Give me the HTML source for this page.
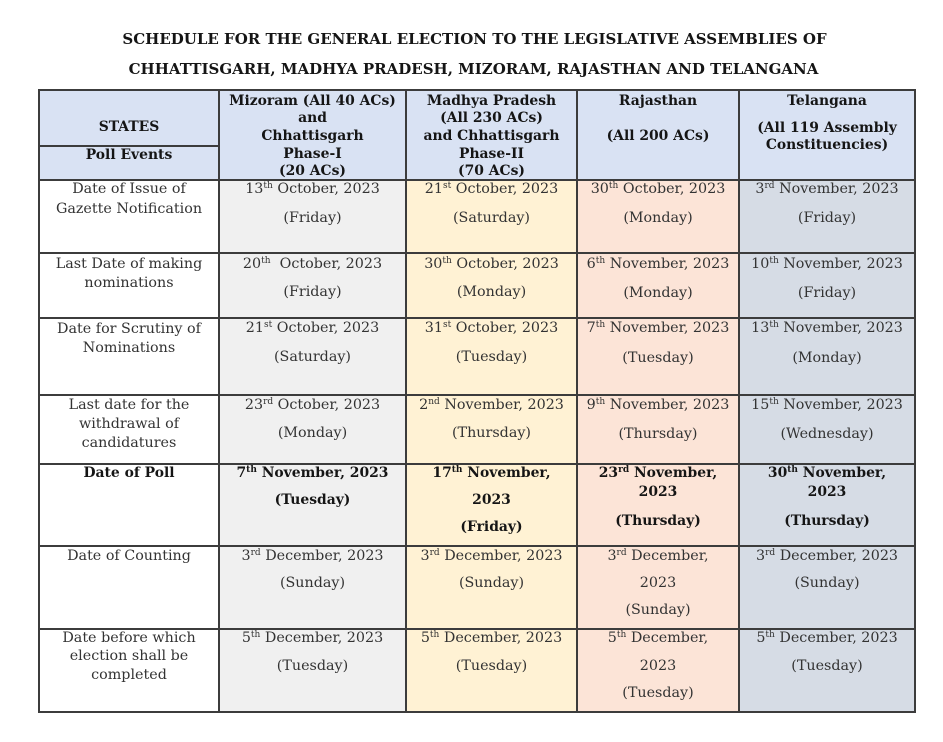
<!DOCTYPE html>
<html><head><meta charset="utf-8">
<style>
html,body{margin:0;padding:0;background:#fff;}
body{width:943px;height:742px;position:relative;overflow:hidden;font-family:"DejaVu Serif","Liberation Serif",serif;}
.bg{position:absolute;}
.h{position:absolute;background:#3c3c3c;height:2px;}
.v{position:absolute;background:#3c3c3c;width:2px;}
.t{position:absolute;text-align:center;line-height:18px;white-space:nowrap;font-size:14.3px;color:#333;}
.b{font-weight:bold;color:#151515;font-size:13.9px;}
.s{font-size:9px;vertical-align:5px;line-height:0;}
.ti{position:absolute;left:0;width:943px;text-align:center;font-weight:bold;font-size:15px;color:#151515;white-space:nowrap;line-height:20px;}
</style></head><body>
<div class="ti" style="top:29px;left:3px">SCHEDULE FOR THE GENERAL ELECTION TO THE LEGISLATIVE ASSEMBLIES OF</div>
<div class="ti" style="top:59px;left:2px">CHHATTISGARH, MADHYA PRADESH, MIZORAM, RAJASTHAN AND TELANGANA</div>

<!-- backgrounds -->
<div class="bg" style="left:39px;top:90px;width:876px;height:90px;background:#d9e2f3"></div>
<div class="bg" style="left:219px;top:180px;width:187px;height:532px;background:#f0f0f0"></div>
<div class="bg" style="left:406px;top:180px;width:171px;height:532px;background:#fff2d4"></div>
<div class="bg" style="left:577px;top:180px;width:162px;height:532px;background:#fce4d7"></div>
<div class="bg" style="left:739px;top:180px;width:176px;height:532px;background:#d6dce5"></div>

<!-- horizontal lines -->
<div class="h" style="left:39px;top:89px;width:877px"></div>
<div class="h" style="left:39px;top:145px;width:181px"></div>
<div class="h" style="left:39px;top:179px;width:877px"></div>
<div class="h" style="left:39px;top:252px;width:877px"></div>
<div class="h" style="left:39px;top:317px;width:877px"></div>
<div class="h" style="left:39px;top:394px;width:877px"></div>
<div class="h" style="left:39px;top:463px;width:877px"></div>
<div class="h" style="left:39px;top:545px;width:877px"></div>
<div class="h" style="left:39px;top:628px;width:877px"></div>
<div class="h" style="left:39px;top:711px;width:877px"></div>
<!-- vertical lines -->
<div class="v" style="left:38px;top:89px;height:624px"></div>
<div class="v" style="left:218px;top:89px;height:624px"></div>
<div class="v" style="left:405px;top:89px;height:624px"></div>
<div class="v" style="left:576px;top:89px;height:624px"></div>
<div class="v" style="left:738px;top:89px;height:624px"></div>
<div class="v" style="left:914px;top:89px;height:624px"></div>

<!-- header -->
<div class="t b" style="left:39px;width:180px;top:118px">STATES</div>
<div class="t b" style="left:39px;width:180px;top:146px">Poll Events</div>

<div class="t b" style="left:219px;width:187px;top:92px">Mizoram (All 40 ACs)</div>
<div class="t b" style="left:219px;width:187px;top:109px">and</div>
<div class="t b" style="left:219px;width:187px;top:127px">Chhattisgarh</div>
<div class="t b" style="left:219px;width:187px;top:145px">Phase-I</div>
<div class="t b" style="left:219px;width:187px;top:162px">(20 ACs)</div>

<div class="t b" style="left:406px;width:171px;top:92px">Madhya Pradesh</div>
<div class="t b" style="left:406px;width:171px;top:109px">(All 230 ACs)</div>
<div class="t b" style="left:406px;width:171px;top:127px">and Chhattisgarh</div>
<div class="t b" style="left:406px;width:171px;top:145px">Phase-II</div>
<div class="t b" style="left:406px;width:171px;top:162px">(70 ACs)</div>

<div class="t b" style="left:577px;width:162px;top:92px">Rajasthan</div>
<div class="t b" style="left:577px;width:162px;top:127px">(All 200 ACs)</div>

<div class="t b" style="left:739px;width:176px;top:92px">Telangana</div>
<div class="t b" style="left:739px;width:176px;top:119px">(All 119 Assembly</div>
<div class="t b" style="left:739px;width:176px;top:136px">Constituencies)</div>

<!-- row 1 -->
<div class="t" style="left:39px;width:180px;top:180px">Date of Issue of</div>
<div class="t" style="left:39px;width:180px;top:200px">Gazette Notification</div>
<div class="t" style="left:219px;width:187px;top:180px">13<span class="s">th</span> October, 2023</div>
<div class="t" style="left:219px;width:187px;top:209px">(Friday)</div>
<div class="t" style="left:406px;width:171px;top:180px">21<span class="s">st</span> October, 2023</div>
<div class="t" style="left:406px;width:171px;top:209px">(Saturday)</div>
<div class="t" style="left:577px;width:162px;top:180px">30<span class="s">th</span> October, 2023</div>
<div class="t" style="left:577px;width:162px;top:209px">(Monday)</div>
<div class="t" style="left:739px;width:176px;top:180px">3<span class="s">rd</span> November, 2023</div>
<div class="t" style="left:739px;width:176px;top:209px">(Friday)</div>

<!-- row 2 -->
<div class="t" style="left:39px;width:180px;top:255px">Last Date of making</div>
<div class="t" style="left:39px;width:180px;top:274px">nominations</div>
<div class="t" style="left:219px;width:187px;top:255px">20<span class="s">th</span>&nbsp; October, 2023</div>
<div class="t" style="left:219px;width:187px;top:283px">(Friday)</div>
<div class="t" style="left:406px;width:171px;top:255px">30<span class="s">th</span> October, 2023</div>
<div class="t" style="left:406px;width:171px;top:283px">(Monday)</div>
<div class="t" style="left:577px;width:162px;top:255px">6<span class="s">th</span> November, 2023</div>
<div class="t" style="left:577px;width:162px;top:284px">(Monday)</div>
<div class="t" style="left:739px;width:176px;top:255px">10<span class="s">th</span> November, 2023</div>
<div class="t" style="left:739px;width:176px;top:284px">(Friday)</div>

<!-- row 3 -->
<div class="t" style="left:39px;width:180px;top:320px">Date for Scrutiny of</div>
<div class="t" style="left:39px;width:180px;top:339px">Nominations</div>
<div class="t" style="left:219px;width:187px;top:319px">21<span class="s">st</span> October, 2023</div>
<div class="t" style="left:219px;width:187px;top:348px">(Saturday)</div>
<div class="t" style="left:406px;width:171px;top:319px">31<span class="s">st</span> October, 2023</div>
<div class="t" style="left:406px;width:171px;top:348px">(Tuesday)</div>
<div class="t" style="left:577px;width:162px;top:319px">7<span class="s">th</span> November, 2023</div>
<div class="t" style="left:577px;width:162px;top:349px">(Tuesday)</div>
<div class="t" style="left:739px;width:176px;top:319px">13<span class="s">th</span> November, 2023</div>
<div class="t" style="left:739px;width:176px;top:349px">(Monday)</div>

<!-- row 4 -->
<div class="t" style="left:39px;width:180px;top:396px">Last date for the</div>
<div class="t" style="left:39px;width:180px;top:415px">withdrawal of</div>
<div class="t" style="left:39px;width:180px;top:434px">candidatures</div>
<div class="t" style="left:219px;width:187px;top:396px">23<span class="s">rd</span> October, 2023</div>
<div class="t" style="left:219px;width:187px;top:424px">(Monday)</div>
<div class="t" style="left:406px;width:171px;top:396px">2<span class="s">nd</span> November, 2023</div>
<div class="t" style="left:406px;width:171px;top:424px">(Thursday)</div>
<div class="t" style="left:577px;width:162px;top:396px">9<span class="s">th</span> November, 2023</div>
<div class="t" style="left:577px;width:162px;top:425px">(Thursday)</div>
<div class="t" style="left:739px;width:176px;top:396px">15<span class="s">th</span> November, 2023</div>
<div class="t" style="left:739px;width:176px;top:425px">(Wednesday)</div>

<!-- row 5 -->
<div class="t b" style="left:39px;width:180px;top:464px">Date of Poll</div>
<div class="t b" style="left:219px;width:187px;top:464px">7<span class="s">th</span> November, 2023</div>
<div class="t b" style="left:219px;width:187px;top:491px">(Tuesday)</div>
<div class="t b" style="left:406px;width:171px;top:464px">17<span class="s">th</span> November,</div>
<div class="t b" style="left:406px;width:171px;top:491px">2023</div>
<div class="t b" style="left:406px;width:171px;top:518px">(Friday)</div>
<div class="t b" style="left:577px;width:162px;top:464px">23<span class="s">rd</span> November,</div>
<div class="t b" style="left:577px;width:162px;top:483px">2023</div>
<div class="t b" style="left:577px;width:162px;top:512px">(Thursday)</div>
<div class="t b" style="left:739px;width:176px;top:464px">30<span class="s">th</span> November,</div>
<div class="t b" style="left:739px;width:176px;top:483px">2023</div>
<div class="t b" style="left:739px;width:176px;top:512px">(Thursday)</div>

<!-- row 6 -->
<div class="t" style="left:39px;width:180px;top:547px">Date of Counting</div>
<div class="t" style="left:219px;width:187px;top:547px">3<span class="s">rd</span> December, 2023</div>
<div class="t" style="left:219px;width:187px;top:574px">(Sunday)</div>
<div class="t" style="left:406px;width:171px;top:547px">3<span class="s">rd</span> December, 2023</div>
<div class="t" style="left:406px;width:171px;top:574px">(Sunday)</div>
<div class="t" style="left:577px;width:162px;top:547px">3<span class="s">rd</span> December,</div>
<div class="t" style="left:577px;width:162px;top:574px">2023</div>
<div class="t" style="left:577px;width:162px;top:601px">(Sunday)</div>
<div class="t" style="left:739px;width:176px;top:547px">3<span class="s">rd</span> December, 2023</div>
<div class="t" style="left:739px;width:176px;top:574px">(Sunday)</div>

<!-- row 7 -->
<div class="t" style="left:39px;width:180px;top:629px">Date before which</div>
<div class="t" style="left:39px;width:180px;top:647px">election shall be</div>
<div class="t" style="left:39px;width:180px;top:666px">completed</div>
<div class="t" style="left:219px;width:187px;top:629px">5<span class="s">th</span> December, 2023</div>
<div class="t" style="left:219px;width:187px;top:657px">(Tuesday)</div>
<div class="t" style="left:406px;width:171px;top:629px">5<span class="s">th</span> December, 2023</div>
<div class="t" style="left:406px;width:171px;top:657px">(Tuesday)</div>
<div class="t" style="left:577px;width:162px;top:629px">5<span class="s">th</span> December,</div>
<div class="t" style="left:577px;width:162px;top:657px">2023</div>
<div class="t" style="left:577px;width:162px;top:684px">(Tuesday)</div>
<div class="t" style="left:739px;width:176px;top:629px">5<span class="s">th</span> December, 2023</div>
<div class="t" style="left:739px;width:176px;top:657px">(Tuesday)</div>
</body></html>
